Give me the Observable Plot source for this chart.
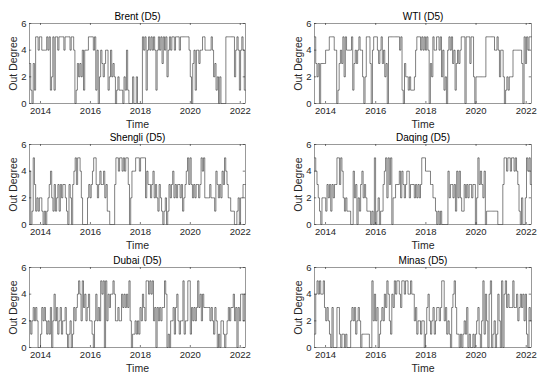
<!DOCTYPE html>
<html><head><meta charset="utf-8">
<script src="https://cdn.jsdelivr.net/npm/d3@7"></script>
<script src="https://cdn.jsdelivr.net/npm/@observablehq/plot@0.6"></script>
<style>
body{margin:0;background:#fff;}
#wrap{position:relative;width:550px;height:380px;background:#fff;}
#wrap svg{position:absolute;}
</style></head><body><div id="wrap"></div>
<script>
const xTicks = [2014, 2016, 2018, 2020, 2022];
const yTicks = [0, 2, 4, 6];
const tStart = 2013.56, tEnd = 2022.21;

const brent = [3,1,0,3,1,5,5,4,5,5, 4,4,4,4,5,4,5,1,2,5, 1,5,5,4,5,5,5,5,4,5, 5,5,5,4,5,5,4,0,1,3,
  2,3,2,4,1,4,4,4,5,5, 5,5,4,5,1,4,0,2,4,3, 2,3,4,4,1,2,4,2,3,2, 0,1,2,1,1,1,0,2,1,4,
  1,0,0,0,2,0,0,2,0,0, 0,0,5,4,5,1,4,5,4,5, 4,5,4,1,4,5,4,5,3,5, 4,5,2,4,5,4,5,5,4,5,
  5,5,4,5,5,5,5,5,5,5, 4,2,0,3,4,1,4,4,3,4, 4,5,5,4,4,4,4,4,5,4, 2,3,1,2,0,2,0,0,0,0,
  5,5,5,5,5,5,5,2,4,5, 4,1,4,5,4,1];
const wti = [5,3,2,3, 0, 3,3,3,3, 4,4,4, 5,5,5,5, 4,4, 0, 1, 3,4,3, 5,2,5, 4,4,4,4, 5,1, 3,4,3,
  4,5,4,4, 2,0, 2,5,5,5, 3,0,4, 5,5,5,4,3, 4,5,3,4,2, 3,0, 5,5,5,5, 5,5,5,5,5,4, 5,1, 0,3,
  2,2,1,2, 1,1,1,2, 4,5,5, 5,4,5,4,5, 4,5,4,0, 3,2,5, 4,4,5,5, 4,5,2,4, 1,2,0, 4,5,4,5,
  3,4,1,3, 4,3,4, 5,5,5,0, 5,5,5,3,5,5, 2,0, 2,2,2,2,2,2,2,2,5, 5,5,5,5,5,5,4, 4,5,4,2,4,
  4,2,0, 1,2,1,2,2, 2,4,4,4,4, 4,4,4, 3,0, 5,3,5,4,5,5];
const shengli = [4,0,1,5,3,1,2,1,2,2, 1,0,1,0,1,2,3,4,2,1, 3,1,2,3,1,3,2,3,3,2, 1,0,3,2,0,3,4,5,3,5,
  5,4,2,0,0,0,0,2,3,2, 3,4,5,5,3,2,3,4,3,3, 4,2,3,1,1,0,0,0,0,3, 5,5,4,5,5,4,5,4,5,5,
  3,0,2,4,4,4,5,5,5,4, 5,5,5,5,2,4,3,3,2,3, 4,2,3,2,1,3,2,1,0,1, 2,0,1,3,2,3,4,2,3,2,
  3,3,2,3,1,2,3,4,5,3, 5,3,2,3,2,3,3,2,3,5, 4,5,2,2,2,2,3,2,2,2, 1,4,3,2,3,2,4,3,5,4,
  3,2,2,1,1,1,0,0,1,2, 0,2,2,3,3];
const daqing = [5,4,3,2,1,0,2,2,2,1, 3,2,3,1,3,2,3,3,5,5, 3,5,4,2,1,2,1,1,1,0, 0,4,2,3,0,2,1,3,4,2,
  3,2,1,1,1,0,1,0,5,0, 1,2,0,1,1,3,4,5,2,5, 3,5,0,2,2,3,3,3,4,2, 4,3,2,3,4,4,2,3,3,3,
  2,3,2,3,2,3,5,5,5,4, 4,4,4,3,3,2,2,1,0,1, 0,1,0,0,0,0,0,4,2,3, 3,2,3,1,4,2,4,2,1,1,
  3,2,3,2,3,3,2,3,3,0, 2,5,3,4,3,2,4,0,1,1, 1,1,1,1,1,1,1,0,0,0, 0,3,5,5,4,5,5,4,5,5,
  4,5,4,3,1,0,2,0,0,2, 5,4,5,3];
const dubai = [2,1,2,3,2,3,2,0,0,1, 3,2,3,2,1,2,1,3,0,2, 4,2,3,1,2,3,1,2,2,3, 1,0,1,2,0,1,3,2,3,4,
  5,4,2,5,3,4,2,3,4,2, 2,1,0,2,4,2,3,2,5,4, 5,0,5,2,4,3,4,4,5,4, 2,2,3,2,2,4,3,4,3,4,
  3,5,2,0,1,1,2,1,2,1, 3,2,4,3,2,5,5,4,5,4, 5,2,3,0,3,2,3,2,3,3, 5,4,0,1,0,2,2,3,1,3,
  4,2,1,2,2,5,1,2,2,5, 5,1,3,2,3,2,3,5,3,4, 2,4,3,3,3,3,3,2,3,2, 1,3,2,0,1,0,2,2,1,0,
  1,2,3,2,3,3,4,2,3,0, 3,2,4,4,2,4];
const minas = [1,4,5,4,5,4,4,5,3,2, 3,2,1,0,3,0,0,0,3,3, 1,0,1,1,0,1,0,0,0,2, 3,2,3,1,2,3,2,0,1,1,
  1,1,1,1,0,0,5,2,4,2, 3,0,1,2,3,2,4,3,5,4, 2,1,4,3,5,4,5,5,4,3, 5,5,4,5,5,4,4,5,4,4,
  2,3,1,2,2,1,2,2,0,1, 3,4,2,1,2,3,1,2,3,3, 2,3,5,5,2,3,1,2,1,0, 3,4,5,3,1,1,0,1,0,1,
  2,1,3,0,1,0,0,1,0,1, 2,3,1,0,2,5,1,4,2,0, 4,5,0,1,2,0,1,4,2,0, 5,0,4,5,3,4,3,3,3,5,
  3,3,4,2,3,4,3,4,2,4, 1,0,3,2];

const titles = ["Brent (D5)", "WTI (D5)", "Shengli (D5)", "Daqing (D5)", "Dubai (D5)", "Minas (D5)"];
const seriesList = [brent, wti, shengli, daqing, dubai, minas];

const font = '"Liberation Sans", Arial, Helvetica, sans-serif';
const wrap = document.getElementById("wrap");
const rowTops = [0, 121, 244];

function toData(vals) {
  const n = vals.length;
  const step = (tEnd - tStart) / n;
  const d = vals.map((v, i) => ({t: tStart + i * step, v}));
  d.push({t: tEnd, v: vals[n - 1]});
  return d;
}

seriesList.forEach((vals, k) => {
  const col = k % 2, row = Math.floor(k / 2);
  const data = toData(vals);
  const tick = "#262626";
  const chart = Plot.plot({
    width: 275, height: 128,
    marginLeft: col ? 39 : 29, marginRight: col ? 19 : 30,
    marginTop: 23, marginBottom: 25,
    style: {fontFamily: font, fontSize: "9.5px", color: tick, background: "transparent", overflow: "visible"},
    x: {domain: [tStart, tEnd]},
    y: {domain: [0, 6]},
    marks: [
      Plot.line(data, {x: "t", y: "v", curve: "step-after", stroke: "#000", strokeWidth: 0.5}),
      Plot.frame({stroke: "#555", strokeWidth: 0.6}),
      Plot.ruleX(xTicks, {x: d => d, y1: 0, y2: 0.15, stroke: tick, strokeWidth: 0.6}),
      Plot.ruleX(xTicks, {x: d => d, y1: 5.85, y2: 6, stroke: tick, strokeWidth: 0.6}),
      Plot.ruleY(yTicks, {y: d => d, x1: tStart, x2: tStart + 0.09, stroke: tick, strokeWidth: 0.6}),
      Plot.ruleY(yTicks, {y: d => d, x1: tEnd - 0.09, x2: tEnd, stroke: tick, strokeWidth: 0.6}),
      Plot.axisX({ticks: xTicks, tickSize: 0, tickPadding: 4, tickFormat: d => String(d), label: null, fontSize: 9.5}),
      Plot.axisY({ticks: yTicks, tickSize: 0, tickPadding: 3, tickFormat: d => String(d), label: null, fontSize: 9.5}),
      Plot.text([titles[k]], {text: d => d, frameAnchor: "top", textAnchor: "middle", lineAnchor: "middle", dy: -7, fontSize: 10, fill: "#000"}),
      Plot.text(["Time"], {text: d => d, frameAnchor: "bottom", textAnchor: "middle", lineAnchor: "middle", dy: 21, fontSize: 10.5, fill: tick}),
      Plot.text(["Out Degree"], {text: d => d, frameAnchor: "left", textAnchor: "middle", lineAnchor: "middle", dx: -16, rotate: -90, fontSize: 10.5, fill: tick})
    ]
  });
  chart.style.left = (col * 275) + "px";
  chart.style.top = rowTops[row] + "px";
  wrap.appendChild(chart);
});
</script></body></html>
